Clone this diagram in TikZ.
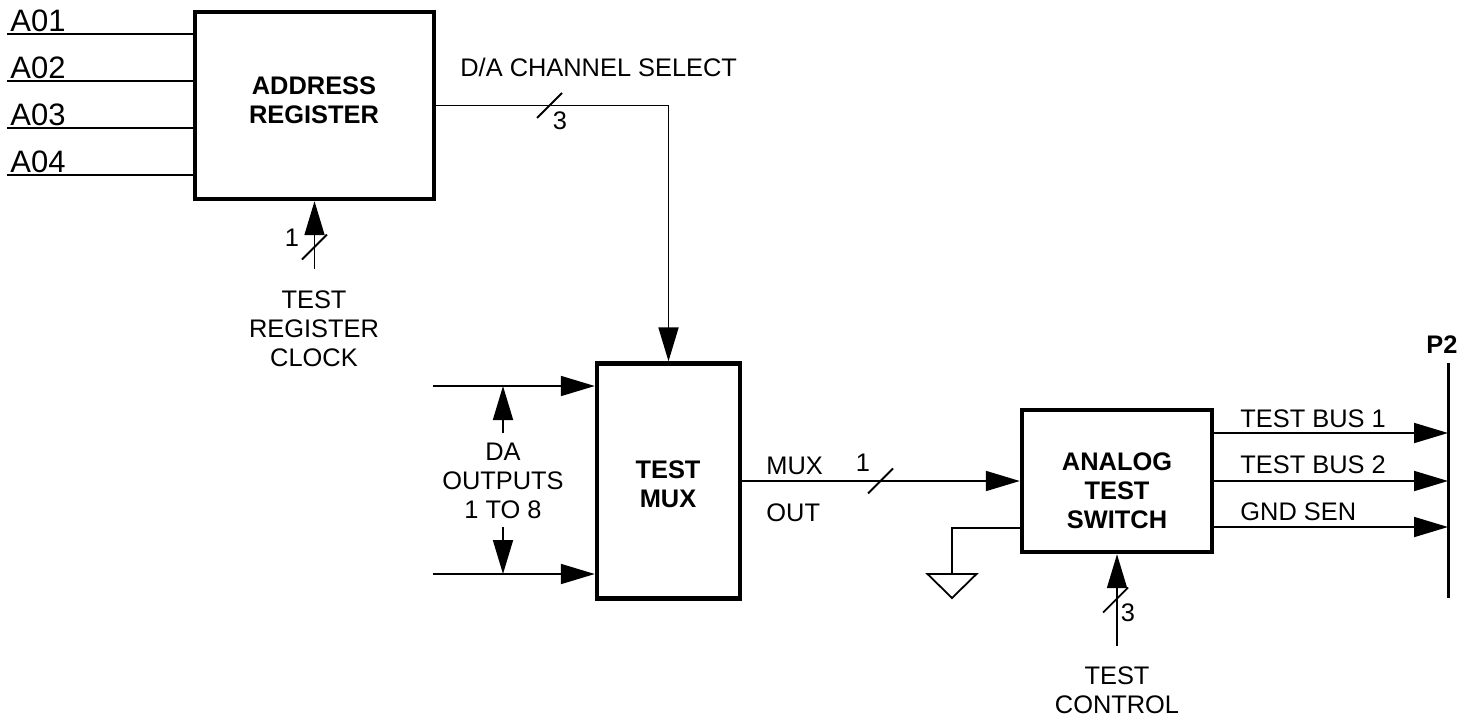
\documentclass[tikz,border=0pt]{standalone}
\usepackage{fontspec}
\setmainfont{Liberation Sans}
\usetikzlibrary{arrows.meta}
\begin{document}
\begin{tikzpicture}[x=0.5pt,y=-0.5pt,
  wire/.style={line width=0.9pt},
  arr/.style={wire,-{Triangle[length=17pt,width=10pt]}},
  blk/.style={draw, line width=2.2pt, rectangle, inner sep=0pt},
  lbl/.style={font=\fontsize{12.7}{14.5}\selectfont, inner sep=0pt, align=center},
  blbl/.style={font=\fontsize{12.7}{14.5}\selectfont\bfseries, inner sep=0pt, align=center},
  pinlbl/.style={font=\fontsize{15.5}{18}\selectfont, inner sep=0pt, anchor=base west},
  busline/.style={line width=1.5pt}
]
\useasboundingbox (0,0) rectangle (1466,723);

% blocks
\node[blk, minimum width=119.5pt, minimum height=93.5pt] (addr) at (314.5,105.5) {};
\node[blbl] (addrlbl) at (314,100.5) {ADDRESS\\REGISTER};
\node[blk, minimum width=71.5pt, minimum height=117.5pt] (mux) at (668.5,481) {};
\node[blbl] (muxlbl) at (668,484.5) {TEST\\MUX};
\node[blk, minimum width=95pt, minimum height=71pt] (ats) at (1117,481) {};
\node[blbl] (atslbl) at (1117,490.5) {ANALOG\\TEST\\SWITCH};

% address inputs
\foreach \i/\y/\b in {1/34/31,2/81/78,3/128/125,4/175/172}{
  \coordinate (a\i) at (7,\y);
  \draw[wire] (a\i) -- (a\i -| addr.west);
  \node[pinlbl] (la\i) at (10,\b) {A0\i};
}

% D/A channel select
\draw[arr] (addr.east) -| (mux.north);
\coordinate (s1) at (549.5,105.5);
\draw[wire] (s1) ++(-12.5,12.5) -- ++(25,-25);
\node[lbl] (n3a) at (560,121) {3};
\node[lbl, anchor=base west] (dalbl) at (460,76) {D/A CHANNEL SELECT};

% test register clock
\coordinate (trc) at (314.5,269);
\draw[arr] (trc) -- (addr.south);
\coordinate (s2) at (314.5,247);
\draw[wire] (s2) ++(-12.5,12.5) -- ++(25,-25);
\node[lbl] (n1a) at (292,238) {1};
\node[lbl] (trclbl) at (314,328.5) {TEST\\REGISTER\\CLOCK};

% DA outputs
\coordinate (d1) at (433,386);
\coordinate (d8) at (433,574);
\draw[arr] (d1) -- (d1 -| mux.west);
\draw[arr] (d8) -- (d8 -| mux.west);
\coordinate (dm1) at (503,433);
\coordinate (dm8) at (503,527);
\draw[arr] (dm1) -- (dm1 |- d1);
\draw[arr] (dm8) -- (dm8 |- d8);
\node[lbl] (dalbl2) at (503,481) {DA\\OUTPUTS\\1 TO 8};

% mux out
\draw[arr] (mux.east) -- (ats.west);
\node[lbl, anchor=base west] (muxo1) at (766,474) {MUX};
\node[lbl, anchor=base west] (muxo2) at (766,521) {OUT};
\node[lbl] (n1b) at (863,463) {1};
\coordinate (s3) at (880.5,481);
\draw[wire] (s3) ++(-12.5,12.5) -- ++(25,-25);

% ground
\coordinate (g1) at (952,528);
\coordinate (gnd) at (952,574);
\draw[wire] (g1 -| ats.west) -- (g1) -- (gnd);
\draw[wire] (gnd) ++(-24.5,0) -- ++(49,0) -- ++(-24.5,24) -- cycle;

% test control
\coordinate (tc) at (1117,646);
\draw[arr] (tc) -- (ats.south);
\coordinate (s4) at (1115.5,600);
\draw[wire] (s4) ++(-12.5,12.5) -- ++(25,-25);
\node[lbl] (n3b) at (1128,613) {3};
\node[lbl] (tclbl) at (1117,690) {TEST\\CONTROL};

% outputs to P2
\coordinate (p2top) at (1448,363);
\coordinate (p2bot) at (1448,598);
\draw[busline] (p2top) -- (p2bot);
\node[blbl, anchor=base] (p2lbl) at (1442,353) {P2};
\foreach \i/\y/\b/\t in {1/433/427/TEST BUS 1,2/481/473/TEST BUS 2,3/527/520/GND SEN}{
  \coordinate (o\i) at (1448,\y);
  \draw[arr] (o\i -| ats.east) -- (o\i);
  \node[lbl, anchor=base west] (ol\i) at (1240,\b) {\t};
}
\end{tikzpicture}
\end{document}
